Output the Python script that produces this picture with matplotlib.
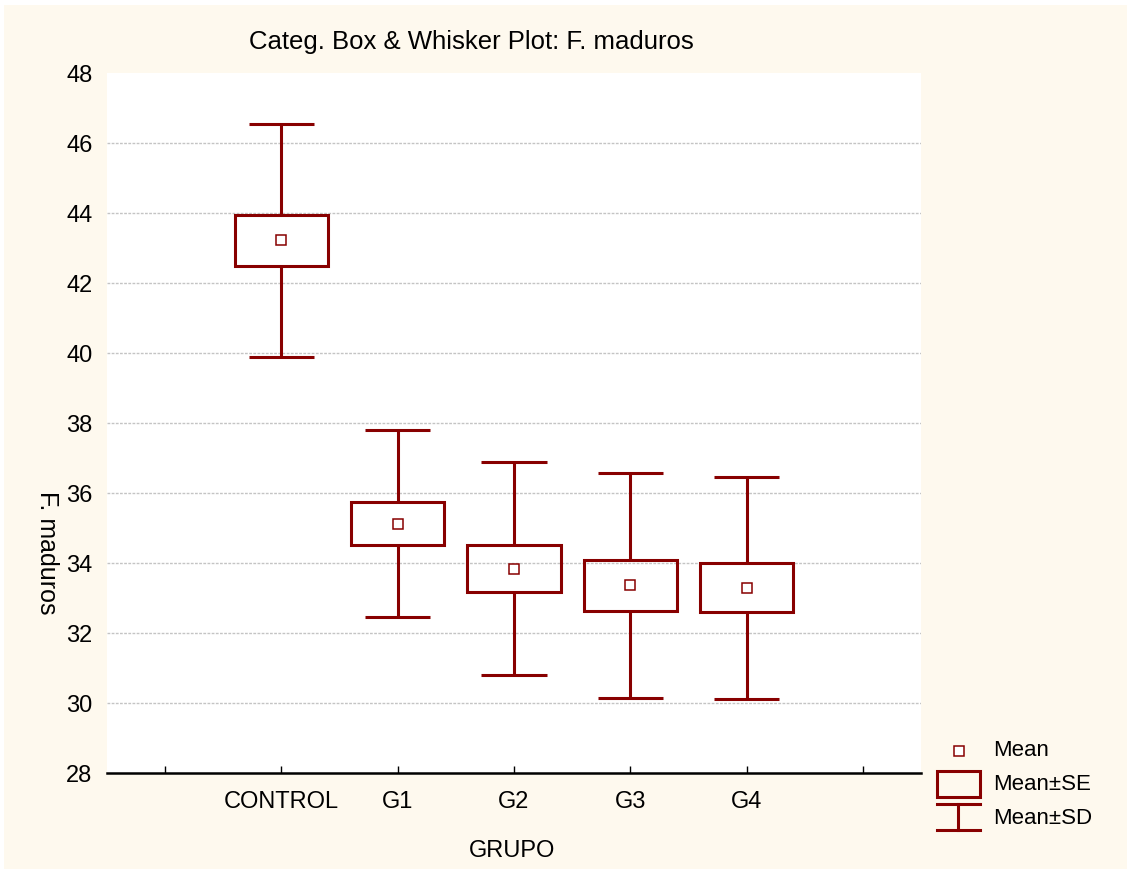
import matplotlib
matplotlib.use("Agg")
import matplotlib.pyplot as plt
from matplotlib.patches import Rectangle
from matplotlib.lines import Line2D

plt.rcParams['font.family'] = ['Liberation Sans', 'DejaVu Sans']

# values
groups = ["CONTROL", "G1", "G2", "G3", "G4"]
means = [43.22, 35.12, 33.84, 33.36, 33.29]
se = [0.72, 0.61, 0.68, 0.72, 0.70]
sd = [3.33, 2.67, 3.05, 3.21, 3.18]
yticks = [28, 30, 32, 34, 36, 38, 40, 42, 44, 46, 48]

W, H = 1127, 873
red = '#880000'
cream = '#fef9ee'

fig = plt.figure(figsize=(W / 100, H / 100), dpi=100, facecolor='white')


def px(x, y):
	"""pixel (from top-left) to figure fraction"""
	return x / W, 1 - y / H


# cream background with thin white border
x0, y0 = px(4, 869)
fig.patches.append(Rectangle((x0, y0), 1 - x0, (869 - 5) / H,
	transform=fig.transFigure, facecolor=cream, edgecolor='none', zorder=-10))

l, b = px(107, 773)
r, t = px(921, 73)
ax = fig.add_axes([l, b, r - l, t - b])
ax.set_facecolor('white')

xs = list(range(1, len(groups) + 1))
for x, m, e, d in zip(xs, means, se, sd):
	ax.add_patch(Rectangle((x - 0.4, m - e), 0.8, 2 * e, facecolor='none',
		edgecolor=red, lw=2.2, zorder=3))
	ax.vlines(x, m + e, m + d, color=red, lw=2.2, zorder=3)
	ax.vlines(x, m - d, m - e, color=red, lw=2.2, zorder=3)
	ax.hlines([m + d, m - d], x - 0.28, x + 0.28, color=red, lw=2.2, zorder=3)
ax.plot(xs, means, 's', ms=7, mfc='white', mec=red, mew=1.1, zorder=4)

# dotted grid, none on the top edge
for yv in yticks[1:-1]:
	ax.axhline(yv, color='#c4c4c4', linestyle=(0, (2, 1)), lw=1, zorder=1)

ax.set_xlim(-0.5, 6.5)
ax.set_ylim(28, 48)
ax.set_yticks(yticks)
ax.set_xticks(range(0, 7))
ax.set_xticklabels([""] + groups + [""])
ax.tick_params(axis='y', length=0, labelsize=17, pad=10.5)
ax.tick_params(axis='x', direction='in', length=5, width=1, labelsize=17, pad=13)
for s in ['top', 'right', 'left']:
	ax.spines[s].set_visible(False)
ax.spines['bottom'].set_linewidth(1.8)

fig.text(*px(471, 42), "Categ. Box & Whisker Plot: F. maduros", fontsize=18.5,
	ha='center', va='center')
fig.text(*px(512, 851), "GRUPO", fontsize=17, ha='center', va='center')
fig.text(*px(47, 553), "F. maduros", fontsize=18, ha='center', va='center',
	rotation=270)

# legend drawn by hand
lw = 2.2
fig.lines.append(Line2D([px(959, 0)[0]], [px(0, 751)[1]], marker='s', ms=7,
	mfc='white', mec=red, mew=1.1, ls='none', transform=fig.transFigure))
bx0, by0 = px(937, 797)
bx1, by1 = px(980, 771)
fig.patches.append(Rectangle((bx0, by0), bx1 - bx0, by1 - by0, facecolor='none',
	edgecolor=red, lw=lw, transform=fig.transFigure))
for yy in [804, 830]:
	fig.lines.append(Line2D([bx0, bx1], [px(0, yy)[1]] * 2, color=red, lw=lw,
		transform=fig.transFigure))
fig.lines.append(Line2D([px(958, 0)[0]] * 2, [px(0, 804)[1], px(0, 830)[1]],
	color=red, lw=lw, transform=fig.transFigure))
for label, yy in [("Mean", 750), ("Mean±SE", 785), ("Mean±SD", 818)]:
	fig.text(*px(993, yy), label, fontsize=16, ha='left', va='center')

fig.savefig("out.png", dpi=100, facecolor=fig.get_facecolor())
